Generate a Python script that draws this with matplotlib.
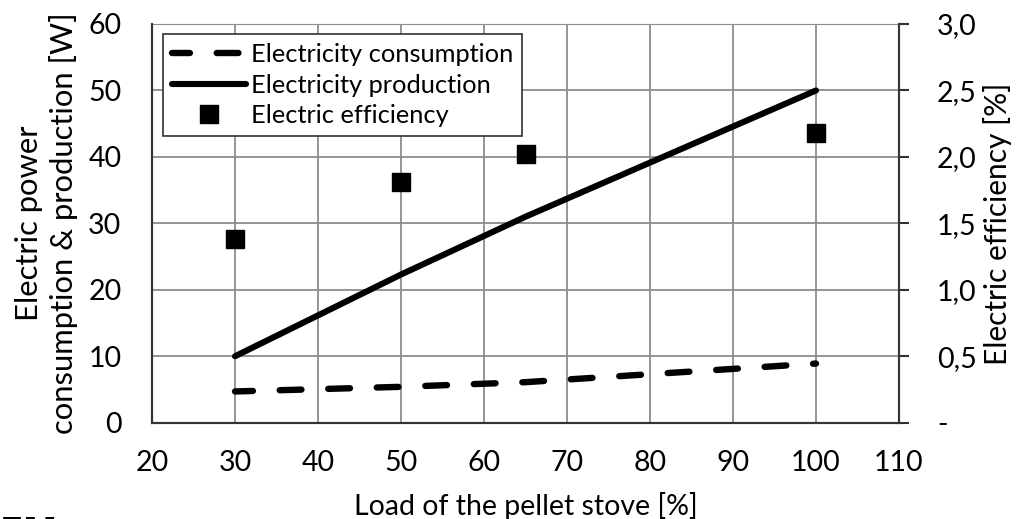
import matplotlib
matplotlib.use("Agg")
import matplotlib.pyplot as plt
from matplotlib.ticker import FixedLocator, FixedFormatter

plt.rcParams['font.family'] = ['Lato', 'DejaVu Sans']

load = [30, 50, 65, 100]
consumption = [4.7, 5.4, 6.1, 8.9]
production = [10, 22.3, 31, 50]
efficiency = [1.38, 1.81, 2.02, 2.18]

x_ticks = [20, 30, 40, 50, 60, 70, 80, 90, 100, 110]
y_ticks = [0, 10, 20, 30, 40, 50, 60]
y2_ticks = [0, 0.5, 1.0, 1.5, 2.0, 2.5, 3.0]
y2_labels = ['-', '0,5', '1,0', '1,5', '2,0', '2,5', '3,0']

fig = plt.figure(figsize=(10.32, 5.19), dpi=100)
ax = fig.add_axes([152/1032, 1-422.7/519, (899-152)/1032, (422.7-24)/519])
ax2 = ax.twinx()

fs = 20.5
grid_c = '#8c8c8c'

l1, = ax.plot(load, consumption, color='black', lw=4.6, ls=(0.6, (3.4, 4.2)),
              dash_capstyle='round', solid_capstyle='round', zorder=3,
              label='Electricity consumption')
l2, = ax.plot(load, production, color='black', lw=4.4, solid_capstyle='round',
              zorder=3, label='Electricity production')
l3, = ax2.plot(load, efficiency, ls='none', marker='s', ms=12.5, color='black',
               label='Electric efficiency')

ax.set_xlim(20, 110)
ax.set_ylim(0, 60)
ax2.set_ylim(0, 3.0)
ax.set_xticks(x_ticks)
ax.set_yticks(y_ticks)
ax2.yaxis.set_major_locator(FixedLocator(y2_ticks))
ax2.yaxis.set_major_formatter(FixedFormatter(y2_labels))

ax.grid(True, color=grid_c, lw=1.3)
ax.set_axisbelow(True)
ax.spines['top'].set_color(grid_c)
ax2.spines['top'].set_visible(False)
for a in (ax, ax2):
    for sp in ['left', 'bottom', 'right']:
        a.spines[sp].set_color('#353535')
        a.spines[sp].set_linewidth(1.5)

ax.tick_params(axis='both', length=0, labelsize=fs, colors='black')
ax.tick_params(axis='y', pad=22)
ax.tick_params(axis='x', pad=20)
ax2.tick_params(axis='y', length=7.2, width=1.5, color='#303030', labelsize=fs,
                direction='out', pad=20)

ax.set_xlabel('Load of the pellet stove [%]', fontsize=fs, labelpad=11)
ax.set_ylabel('Electric power\nconsumption & production [W]', fontsize=22.3,
              labelpad=7, linespacing=1.25)
ax2.set_ylabel('Electric efficiency [%]', fontsize=21.5, labelpad=5)

leg = ax.legend(handles=[l1, l2, l3], loc='upper left',
                bbox_to_anchor=((163-152)/747, 1-(34-24)/398.7),
                fontsize=18.3, frameon=True, fancybox=False, borderaxespad=0,
                handlelength=2.9, handletextpad=0.2, labelspacing=0.3,
                borderpad=0.35)
leg.get_frame().set_edgecolor('#303030')
leg.get_frame().set_linewidth(1.2)
leg.get_frame().set_alpha(1)
leg.set_zorder(5)

fig.text(0.0, -0.06, 'EM', fontsize=25, fontweight='bold', ha='left', va='bottom',
         family=['DejaVu Sans'])

fig.savefig('out.png', dpi=100)
